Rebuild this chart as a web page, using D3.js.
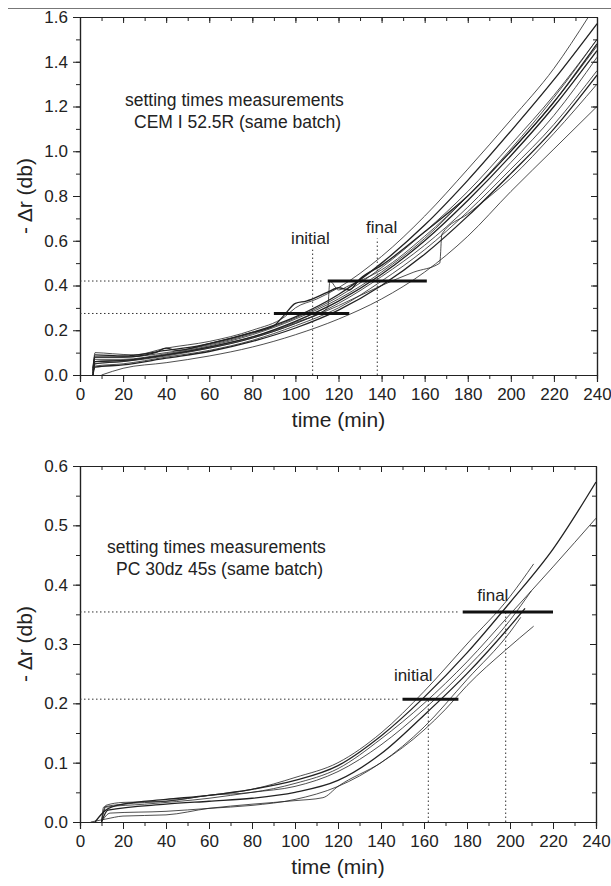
<!DOCTYPE html>
<html>
<head>
<meta charset="utf-8">
<script src="https://cdn.jsdelivr.net/npm/d3@7"></script>
<style>
  body { margin: 0; background: #fff; }
  text { font-family: "Liberation Sans", Arial, sans-serif; fill: #222; }
</style>
</head>
<body>
<svg id="chart" width="611" height="886"></svg>
<script>
// ---- data ----
const xTicks = [0, 20, 40, 60, 80, 100, 120, 140, 160, 180, 200, 220, 240];
const topYTicks = [0.0, 0.2, 0.4, 0.6, 0.8, 1.0, 1.2, 1.4, 1.6];
const botYTicks = [0.0, 0.1, 0.2, 0.3, 0.4, 0.5, 0.6];

const topTitle = ["setting times measurements", "CEM I 52.5R (same batch)"];
const botTitle = ["setting times measurements", "PC 30dz 45s (same batch)"];

// CEM I 52.5R curves: [time, -dr]
const topCurves = [
  [[6,0.02],[7,0.1],[15,0.095],[25,0.09],[40,0.12],[60,0.15],[80,0.2],[95,0.26],[100,0.3],[110,0.34],[120,0.39],[140,0.53],[160,0.71],[180,0.92],[200,1.14],[220,1.37],[236,1.6]],
  [[6,0.03],[7,0.09],[20,0.085],[40,0.11],[55,0.13],[60,0.14],[80,0.19],[100,0.26],[120,0.36],[140,0.5],[160,0.67],[180,0.87],[200,1.09],[220,1.32],[240,1.57]],
  [[6,0.0],[7,0.08],[20,0.08],[40,0.1],[60,0.135],[80,0.185],[100,0.255],[120,0.35],[140,0.48],[160,0.64],[180,0.82],[200,1.03],[220,1.25],[240,1.5]],
  [[6,0.02],[7,0.07],[20,0.07],[40,0.095],[60,0.13],[80,0.18],[100,0.25],[120,0.34],[140,0.46],[160,0.61],[180,0.8],[200,1.0],[220,1.22],[240,1.47]],
  [[6,0.01],[7,0.06],[20,0.065],[40,0.09],[60,0.125],[80,0.17],[100,0.24],[120,0.33],[140,0.45],[160,0.6],[180,0.78],[200,0.98],[220,1.2],[240,1.45]],
  [[6,0.0],[7,0.05],[20,0.06],[40,0.085],[60,0.12],[80,0.165],[100,0.23],[120,0.32],[140,0.44],[160,0.58],[180,0.75],[200,0.95],[220,1.16],[240,1.42]],
  [[6,0.01],[7,0.04],[20,0.05],[40,0.08],[60,0.11],[80,0.155],[100,0.22],[120,0.3],[140,0.42],[160,0.56],[180,0.73],[200,0.92],[220,1.12],[240,1.36]],
  [[6,0.0],[7,0.035],[20,0.045],[40,0.075],[60,0.105],[80,0.15],[100,0.21],[120,0.29],[140,0.4],[160,0.54],[180,0.71],[200,0.9],[220,1.1],[240,1.34]],
  [[6,0.0],[7,0.05],[20,0.06],[40,0.09],[60,0.12],[80,0.165],[100,0.23],[120,0.31],[140,0.4],[155,0.46],[167,0.5],[168,0.63],[180,0.72],[200,0.88],[220,1.08],[240,1.3]],
  [[10,0.0],[20,0.03],[40,0.055],[60,0.085],[80,0.125],[100,0.18],[120,0.25],[140,0.34],[160,0.46],[180,0.62],[200,0.82],[220,1.01],[240,1.2]],
  [[6,0.02],[7,0.08],[20,0.08],[35,0.1],[40,0.12],[45,0.11],[60,0.14],[80,0.19],[90,0.22],[95,0.27],[100,0.32],[105,0.33],[115,0.37],[120,0.39],[125,0.38],[130,0.43],[140,0.49],[160,0.64],[180,0.8],[200,1.0],[220,1.22],[240,1.48]],
  [[6,0.0],[7,0.06],[20,0.065],[40,0.09],[60,0.125],[80,0.17],[100,0.235],[115,0.3],[116,0.42],[120,0.38],[125,0.4],[140,0.47],[160,0.62],[180,0.8],[200,1.01],[220,1.24],[240,1.5]]
];

// PC 30dz 45s curves
const botCurves = [
  [[10,0],[11,0.025],[20,0.03],[40,0.035],[60,0.045],[80,0.055],[100,0.075],[120,0.1],[140,0.15],[160,0.22],[180,0.3],[200,0.38],[211,0.435]],
  [[7,0],[12,0.02],[20,0.03],[40,0.038],[60,0.045],[80,0.055],[100,0.07],[120,0.095],[140,0.145],[160,0.21],[180,0.285],[200,0.37],[220,0.46],[240,0.573]],
  [[10,0],[12,0.028],[20,0.033],[40,0.035],[60,0.045],[80,0.05],[100,0.065],[120,0.09],[140,0.14],[160,0.2],[180,0.27],[200,0.35],[220,0.43],[240,0.512]],
  [[10,0],[12,0.025],[30,0.03],[60,0.04],[80,0.05],[100,0.06],[120,0.085],[140,0.13],[160,0.19],[180,0.26],[200,0.34],[210,0.39]],
  [[10,0],[13,0.02],[40,0.03],[60,0.035],[80,0.04],[100,0.05],[120,0.07],[140,0.115],[160,0.18],[180,0.25],[200,0.33],[207,0.36]],
  [[10,0],[14,0.015],[40,0.018],[60,0.023],[80,0.028],[100,0.038],[120,0.06],[140,0.1],[160,0.16],[180,0.24],[200,0.32],[205,0.345]],
  [[5,0],[12,0.005],[20,0.01],[40,0.012],[60,0.023],[80,0.03],[100,0.036],[113,0.041],[120,0.06],[140,0.1],[160,0.155],[170,0.19],[180,0.23],[198,0.29],[211,0.33]]
];

// setting-time markers: level, bar start/end, vertical line time, label position
const topMarks = [
  { name: "initial", level: 0.275, bar: [90, 125], vt: 108, vtop: 0.56, lx: 107, ly: 0.585 },
  { name: "final",   level: 0.42,  bar: [115, 161], vt: 138, vtop: 0.61, lx: 140, ly: 0.635 }
];
const botMarks = [
  { name: "initial", level: 0.207, bar: [150, 176], vt: 162, vtop: 0.207, lx: 155, ly: 0.237 },
  { name: "final",   level: 0.354, bar: [178, 220], vt: 198, vtop: 0.354, lx: 192, ly: 0.372 }
];

const svg = d3.select("#chart");

// separator line at the top of the page
svg.append("line").attr("x1", 8).attr("x2", 611).attr("y1", 8.5).attr("y2", 8.5)
  .style("stroke", "#777").style("stroke-width", 1);

function drawPanel(cfg) {
  const x = d3.scaleLinear().domain([0, 240]).range([cfg.left, cfg.right]);
  const y = d3.scaleLinear().domain([0, cfg.ymax]).range([cfg.bottom, cfg.top]);
  const g = svg.append("g");

  const minorX = d3.range(0, 241, 10);
  const minorY = d3.range(0, cfg.ymax + 1e-9, cfg.ystep / 2);

  // bottom axis
  g.append("g").attr("transform", `translate(0,${cfg.bottom})`)
    .call(d3.axisBottom(x).tickValues(minorX).tickSize(4).tickFormat(""));
  g.append("g").attr("transform", `translate(0,${cfg.bottom})`)
    .call(d3.axisBottom(x).tickValues(xTicks).tickSize(7).tickPadding(6).tickFormat(d3.format("d")))
    .call(a => a.selectAll("text").style("font-size", "17px"));
  // left axis
  g.append("g").attr("transform", `translate(${cfg.left},0)`)
    .call(d3.axisLeft(y).tickValues(minorY).tickSize(4).tickFormat(""));
  g.append("g").attr("transform", `translate(${cfg.left},0)`)
    .call(d3.axisLeft(y).tickValues(cfg.yTicks).tickSize(7).tickPadding(5).tickFormat(d3.format(".1f")))
    .call(a => a.selectAll("text").style("font-size", "17px"));
  // mirrored top and right axes (ticks inside)
  g.append("g").attr("transform", `translate(0,${cfg.top})`)
    .call(d3.axisTop(x).tickValues(minorX).tickSizeInner(-4).tickSizeOuter(0).tickFormat(""));
  g.append("g").attr("transform", `translate(0,${cfg.top})`)
    .call(d3.axisTop(x).tickValues(xTicks).tickSizeInner(-6).tickSizeOuter(0).tickFormat(""));
  g.append("g").attr("transform", `translate(${cfg.right},0)`)
    .call(d3.axisRight(y).tickValues(minorY).tickSizeInner(-4).tickSizeOuter(0).tickFormat(""));
  g.append("g").attr("transform", `translate(${cfg.right},0)`)
    .call(d3.axisRight(y).tickValues(cfg.yTicks).tickSizeInner(-6).tickSizeOuter(0).tickFormat(""));
  g.selectAll(".domain").style("stroke", "#222").style("stroke-width", 1.2);
  g.selectAll(".tick line").style("stroke", "#222");

  // axis titles
  g.append("text").attr("x", (cfg.left + cfg.right) / 2).attr("y", cfg.bottom + 52)
    .attr("text-anchor", "middle").style("font-size", "21px").text("time (min)");
  g.append("text")
    .attr("transform", `translate(32,${(cfg.top + cfg.bottom) / 2}) rotate(-90)`)
    .attr("text-anchor", "middle").style("font-size", "21px").text("- \u0394r (db)");

  // description
  cfg.title.forEach((t, i) => {
    g.append("text").attr("x", cfg.tx + (i ? 9 : 0)).attr("y", cfg.ty + i * 22)
      .style("font-size", "17.5px").text(t);
  });

  // curves
  const line = d3.line().x(d => x(d[0])).y(d => y(d[1])).curve(d3.curveMonotoneX);
  g.selectAll(".curve").data(cfg.curves).enter().append("path")
    .attr("class", "curve")
    .attr("d", line)
    .style("fill", "none")
    .style("stroke", "#222")
    .style("stroke-width", (d, i) => (i % 3 === 1 ? 1.3 : 0.8));

  // setting-time markers
  cfg.marks.forEach(m => {
    g.append("line").attr("x1", x(0)).attr("x2", x(m.bar[0] - 2))
      .attr("y1", y(m.level)).attr("y2", y(m.level))
      .style("stroke", "#333").style("stroke-width", 1).style("stroke-dasharray", "1.5,2.5");
    g.append("line").attr("x1", x(m.vt)).attr("x2", x(m.vt))
      .attr("y1", y(0)).attr("y2", y(m.vtop))
      .style("stroke", "#333").style("stroke-width", 1).style("stroke-dasharray", "1.5,2.5");
    g.append("line").attr("x1", x(m.bar[0])).attr("x2", x(m.bar[1]))
      .attr("y1", y(m.level)).attr("y2", y(m.level))
      .style("stroke", "#111").style("stroke-width", 3);
    g.append("text").attr("x", x(m.lx)).attr("y", y(m.ly)).attr("text-anchor", "middle")
      .style("font-size", "17px").text(m.name);
  });
}

drawPanel({ left: 80, right: 597, top: 17, bottom: 375, ymax: 1.6, ystep: 0.2, yTicks: topYTicks,
  curves: topCurves, marks: topMarks, title: topTitle, tx: 125, ty: 106 });
drawPanel({ left: 80, right: 596, top: 466, bottom: 822, ymax: 0.6, ystep: 0.1, yTicks: botYTicks,
  curves: botCurves, marks: botMarks, title: botTitle, tx: 107, ty: 553 });
</script>
</body>
</html>
